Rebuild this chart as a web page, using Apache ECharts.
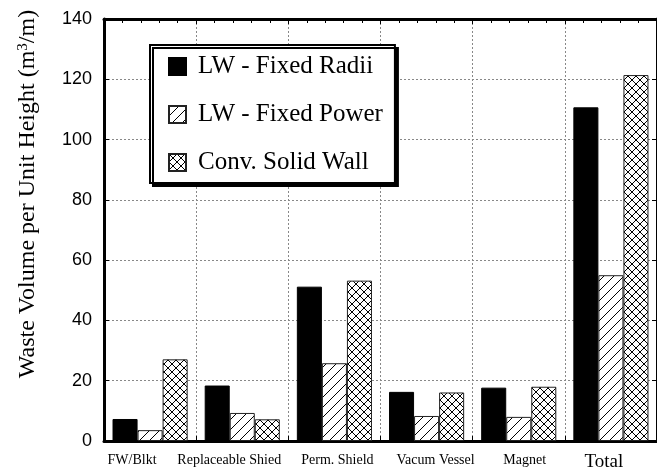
<!DOCTYPE html>
<html>
<head>
<meta charset="utf-8">
<script src="https://cdn.jsdelivr.net/npm/echarts@6/dist/echarts.min.js"></script>
<style>
  html, body { margin: 0; padding: 0; background: #fff; }
  #chart { width: 657px; height: 473px; }
</style>
</head>
<body>
<div id="chart"></div>
<script>
const categories = ["FW/Blkt", "Replaceable Shied", "Perm. Shield", "Vacum Vessel", "Magnet", "Total"];
const fixedRadii = [7.3, 18.4, 51.2, 16.3, 17.7, 110.7];
const fixedPower = [3.6, 9.3, 25.8, 8.3, 8.0, 55.0];
const solidWall = [27.1, 7.2, 53.2, 16.1, 18.0, 121.4];
const yMin = 0, yMax = 140, yStep = 20;

// hatch tiles for the bar fills
function makeTile(size, cross) {
  let c = document.createElement("canvas");
  c.width = size;
  c.height = size;
  let g = c.getContext("2d");
  g.fillStyle = "#fff";
  g.fillRect(0, 0, size, size);
  g.strokeStyle = "#000";
  g.lineWidth = 1;
  g.beginPath();
  g.moveTo(-1, size + 1);
  g.lineTo(size + 1, -1);
  if (cross) {
    g.moveTo(-1, -1);
    g.lineTo(size + 1, size + 1);
  }
  g.stroke();
  return c;
}

const serif = "Liberation Serif";
// nudges so the category labels sit where the original put them
const labelShift = [-18, -13, 3, 9, 6, -7];
const catData = categories.map((name, i) => {
  let s = labelShift[i];
  return {
    value: name,
    textStyle: {
      fontSize: name === "Total" ? 19 : 14,
      padding: s < 0 ? [0, -2 * s, 0, 0] : [0, 0, 0, 2 * s]
    }
  };
});

const frame = { show: true, onZero: false, lineStyle: { color: "#000", width: 3 } };
const dotted = { show: true, lineStyle: { color: "#888", type: [2, 2], width: 1 } };
const inTick = { show: true, inside: true, length: 5, lineStyle: { color: "#000" } };

let option = {
  animation: false,
  backgroundColor: "#fff",
  grid: { show: false, left: 104, right: -2, top: 19, bottom: 32 },
  legend: {
    orient: "vertical",
    left: 150,
    top: 45,
    icon: "rect",
    itemWidth: 17,
    itemHeight: 17,
    itemGap: 23,
    padding: [9, 12, 8, 18],
    backgroundColor: "#fff",
    borderColor: "#000",
    borderWidth: 2,
    shadowColor: "#000",
    shadowBlur: 0,
    shadowOffsetX: 3,
    shadowOffsetY: 3,
    textStyle: {
      fontFamily: serif,
      fontSize: 25,
      color: "#000",
      padding: [0, 0, 0, 7]
    }
  },
  xAxis: [
    {
      type: "category",
      position: "bottom",
      data: catData,
      axisLine: frame,
      axisTick: { show: false },
      axisLabel: {
        interval: 0,
        color: "#000",
        fontFamily: serif,
        margin: 12
      },
      splitLine: { show: false }
    },
    {
      type: "value",
      position: "top",
      min: 0,
      max: categories.length,
      interval: 1,
      axisLine: frame,
      axisTick: inTick,
      minorTick: { show: true, splitNumber: 5, length: 4, lineStyle: { color: "#000" } },
      axisLabel: { show: false },
      splitLine: dotted
    },
    {
      type: "value",
      position: "bottom",
      min: 0,
      max: categories.length,
      interval: 1,
      axisLine: { show: false, onZero: false },
      axisTick: inTick,
      minorTick: { show: true, splitNumber: 5, length: 4, lineStyle: { color: "#000" } },
      axisLabel: { show: false },
      splitLine: { show: false }
    }
  ],
  yAxis: [
    {
      type: "value",
      position: "left",
      min: yMin,
      max: yMax,
      interval: yStep,
      name: "Waste Volume per Unit Height (m{sup|3}/m)",
      nameLocation: "middle",
      nameGap: 64,
      nameTextStyle: {
        fontFamily: serif,
        fontSize: 24,
        color: "#000",
        padding: [0, 0, 0, 72],
        rich: {
          sup: { fontFamily: serif, fontSize: 15, color: "#000", verticalAlign: "top" }
        }
      },
      axisLine: frame,
      axisTick: inTick,
      axisLabel: {
        color: "#000",
        fontFamily: "Liberation Sans",
        fontSize: 18,
        margin: 12
      },
      splitLine: dotted
    },
    {
      type: "value",
      position: "right",
      min: yMin,
      max: yMax,
      interval: yStep,
      axisLine: frame,
      axisTick: inTick,
      axisLabel: { show: false },
      splitLine: { show: false }
    }
  ],
  series: [
    {
      name: "LW - Fixed Radii",
      type: "bar",
      barGap: "0%",
      barCategoryGap: "18.5%",
      itemStyle: { color: "#000", borderColor: "#000", borderWidth: 1 },
      data: fixedRadii
    },
    {
      name: "LW - Fixed Power",
      type: "bar",
      barGap: "0%",
      barCategoryGap: "18.5%",
      itemStyle: {
        color: { image: makeTile(10, false), repeat: "repeat" },
        borderColor: "#222",
        borderWidth: 1
      },
      data: fixedPower
    },
    {
      name: "Conv. Solid Wall",
      type: "bar",
      barGap: "0%",
      barCategoryGap: "18.5%",
      itemStyle: {
        color: { image: makeTile(8, true), repeat: "repeat" },
        borderColor: "#222",
        borderWidth: 1
      },
      data: solidWall
    }
  ]
};

let myChart = echarts.init(document.getElementById("chart"));
myChart.setOption(option);
</script>
</body>
</html>
